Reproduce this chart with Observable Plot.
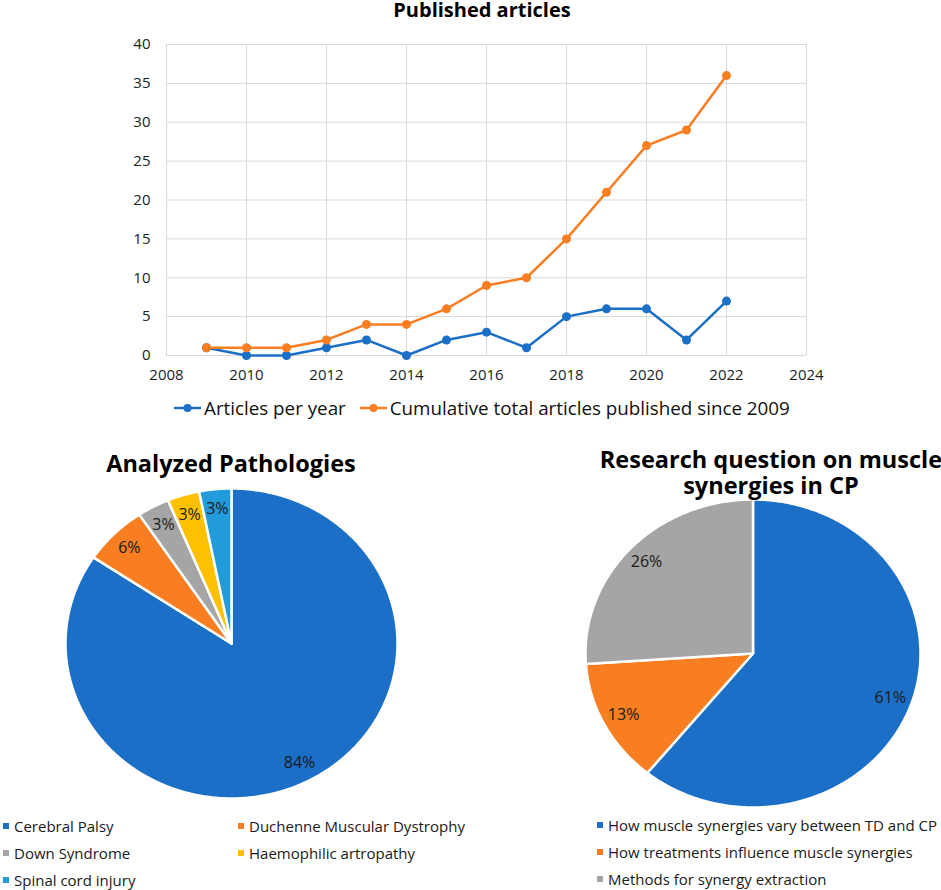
<!DOCTYPE html>
<html><head><meta charset="utf-8">
<script src="https://cdn.jsdelivr.net/npm/d3@7"></script>
<script src="https://cdn.jsdelivr.net/npm/@observablehq/plot@0.6"></script>
<style>
body{margin:0;background:#fff;font-family:"Open Sans",sans-serif;}
#root{position:relative;width:941px;height:890px;overflow:hidden;background:#fff;}
.abs{position:absolute;}
.title{font-weight:bold;color:#000;text-align:center;white-space:nowrap;}
.leg{font-size:15px;color:#1a1a1a;white-space:nowrap;display:flex;align-items:center;height:27px;}
.sq{display:inline-block;width:6px;height:6px;margin-right:5px;flex:none;}
.lleg{font-size:18.8px;color:#111;white-space:nowrap;display:flex;align-items:center;}
</style></head><body><div id="root"></div>
<script>
// ---- Data: line chart ----
const years = [2009,2010,2011,2012,2013,2014,2015,2016,2017,2018,2019,2020,2021,2022];
const perYear = [1,0,0,1,2,0,2,3,1,5,6,6,2,7];
const cumulative = [1,1,1,2,4,4,6,9,10,15,21,27,29,36];
const seriesNames = ["Articles per year","Cumulative total articles published since 2009"];
const seriesColors = ["#1B6FC6","#F97D21"];
const xTicks = [2008,2010,2012,2014,2016,2018,2020,2022,2024];
const yTicks = [0,5,10,15,20,25,30,35,40];

// ---- Data: pies ----
const pathologies = ["Cerebral Palsy","Duchenne Muscular Dystrophy","Down Syndrome","Haemophilic artropathy","Spinal cord injury"];
const pathologyCounts = [27,2,1,1,1];
const pathologyColors = ["#1B6FC6","#F97D21","#A5A5A5","#FFC000","#229BDA"];
const questions = ["How muscle synergies vary between TD and CP","How treatments influence muscle synergies","Methods for synergy extraction"];
const questionCounts = [14,3,6];
const questionColors = ["#1B6FC6","#F97D21","#A5A5A5"];

const root = document.getElementById("root");
function place(el, left, top){ el.classList.add("abs"); el.style.left = left+"px"; el.style.top = top+"px"; root.appendChild(el); return el; }
function div(html, cls){ const d = document.createElement("div"); if (cls) d.className = cls; d.innerHTML = html; return d; }

// ---- Line chart ----
const rows = years.map((y,i)=>({year:y, perYear:perYear[i], cumulative:cumulative[i]}));
const linePlot = Plot.plot({
  width: 941, height: 395,
  marginLeft: 166, marginRight: 135, marginTop: 44, marginBottom: 40,
  style: {fontFamily: "'Open Sans', sans-serif", fontSize: "15px", color: "#222", background: "transparent"},
  x: {domain: [2008, 2024]},
  y: {domain: [0, 40]},
  marks: [
    Plot.gridX(xTicks, {stroke: "#d9d9d9", strokeOpacity: 1, strokeWidth: 1}),
    Plot.gridY(yTicks, {stroke: "#d9d9d9", strokeOpacity: 1, strokeWidth: 1}),
    Plot.axisX(xTicks, {tickSize: 0, tickPadding: 14, tickFormat: d => String(d), label: null, fontSize: 15}),
    Plot.axisY(yTicks, {tickSize: 0, tickPadding: 16, tickFormat: d => String(d), label: null, fontSize: 15}),
    Plot.line(rows, {x: "year", y: "perYear", stroke: seriesColors[0], strokeWidth: 2.5}),
    Plot.dot(rows, {x: "year", y: "perYear", fill: seriesColors[0], r: 4.5}),
    Plot.line(rows, {x: "year", y: "cumulative", stroke: seriesColors[1], strokeWidth: 2.5}),
    Plot.dot(rows, {x: "year", y: "cumulative", fill: seriesColors[1], r: 4.5})
  ]
});
place(linePlot, 0, 0);

const t1 = div("Published articles", "title");
t1.style.fontSize = "20px"; t1.style.width = "400px"; t1.style.lineHeight = "22px";
place(t1, 282, -1);

// line legend
const lineLeg = document.createElement("div");
lineLeg.className = "lleg";
lineLeg.innerHTML = seriesNames.map((n,i)=>
  `<span style="display:flex;align-items:center;margin-right:${i===0?14:0}px">` +
  `<svg width="27" height="10" style="margin-right:3px"><line x1="0" y1="5" x2="27" y2="5" stroke="${seriesColors[i]}" stroke-width="2.5"/><circle cx="13.5" cy="5" r="4" fill="${seriesColors[i]}"/></svg>${n}</span>`
).join("");
lineLeg.style.height = "26px";
place(lineLeg, 174, 395);

// ---- Pies ----
function piePlot(names, counts, colors, rx, ry) {
  const m = 8;
  const total = d3.sum(counts);
  const arcs = d3.pie().sort(null).value(d => d)(counts);
  const pts = [];
  arcs.forEach((a, i) => {
    const n = Math.max(2, Math.ceil((a.endAngle - a.startAngle) / (Math.PI / 360)));
    pts.push({name: names[i], x: 0, y: 0});
    for (let k = 0; k <= n; k++) {
      const t = a.startAngle + (a.endAngle - a.startAngle) * k / n;
      pts.push({name: names[i], x: Math.sin(t), y: Math.cos(t)});
    }
    pts.push({name: names[i], x: 0, y: 0});
  });
  const labels = arcs.map((a, i) => {
    const mid = (a.startAngle + a.endAngle) / 2;
    return {x: 0.87 * Math.sin(mid), y: 0.87 * Math.cos(mid), text: Math.round(counts[i] / total * 100) + "%"};
  });
  return Plot.plot({
    width: 2 * rx + 2 * m, height: 2 * ry + 2 * m,
    margin: m,
    style: {fontFamily: "'Open Sans', sans-serif", background: "transparent"},
    x: {domain: [-1, 1], axis: null},
    y: {domain: [-1, 1], axis: null},
    color: {domain: names, range: colors},
    marks: [
      Plot.line(pts, {x: "x", y: "y", z: "name", fill: "name", stroke: "white", strokeWidth: 2.5, strokeLinejoin: "round", curve: "linear"}),
      Plot.text(labels, {x: "x", y: "y", text: "text", fontSize: 16, fill: "#1a1a1a"})
    ]
  });
}

const pie1 = piePlot(pathologies, pathologyCounts, pathologyColors, 166, 155);
place(pie1, 231 - 166 - 8, 643 - 155 - 8);
const pie2 = piePlot(questions, questionCounts, questionColors, 167.5, 154);
place(pie2, 752 - 167.5 - 8, 653 - 154 - 8);

const t2 = div("Analyzed Pathologies", "title");
t2.style.fontSize = "23.5px"; t2.style.width = "400px"; t2.style.lineHeight = "28px";
place(t2, 31, 449);

const t3a = div("Research question on muscle", "title");
t3a.style.fontSize = "23.5px"; t3a.style.width = "400px"; t3a.style.lineHeight = "25px"; t3a.style.height = "25px";
place(t3a, 571, 447);
const t3b = div("synergies in CP", "title");
t3b.style.fontSize = "23.5px"; t3b.style.width = "400px"; t3b.style.lineHeight = "25px"; t3b.style.height = "25px";
place(t3b, 571, 473);

// pie legends
function legendGrid(names, colors, cols, colWidth) {
  const g = document.createElement("div");
  g.style.display = "grid";
  g.style.gridTemplateColumns = cols === 2 ? `${colWidth}px auto` : "auto";
  g.innerHTML = names.map((n, i) => `<div class="leg"><span class="sq" style="background:${colors[i]}"></span>${n}</div>`).join("");
  return g;
}
place(legendGrid(pathologies, pathologyColors, 2, 235), 3, 812);
place(legendGrid(questions, questionColors, 1, 0), 597, 811);
</script></body></html>
